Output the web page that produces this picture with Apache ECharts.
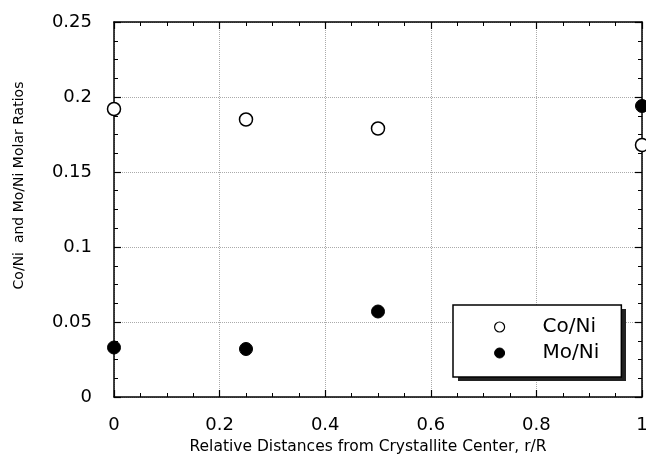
<!DOCTYPE html>
<html>
<head>
<meta charset="utf-8">
<script src="https://cdn.jsdelivr.net/npm/echarts@6/dist/echarts.min.js"></script>
<style>html,body{margin:0;padding:0;background:#fff;overflow:hidden}#c{width:646px;height:462px}</style>
</head>
<body>
<div id="c"></div>
<script>
const xValues = [0, 0.25, 0.5, 1];
const coNi = [0.192, 0.185, 0.179, 0.168];
const moNi = [0.033, 0.032, 0.057, 0.194];
const seriesNames = ['Co/Ni', 'Mo/Ni'];
const xTitle = 'Relative Distances from Crystallite Center, r/R';
const yTitle = 'Co/Ni  and Mo/Ni Molar Ratios';

const FONT = '"DejaVu Sans", "Liberation Sans", sans-serif';
const chart = echarts.init(document.getElementById('c'), null, {renderer: 'canvas', width: 646, height: 462});

function frameAxis(pos, extra) {
  return Object.assign({
    position: pos,
    axisLine: {show: true, onZero: false, lineStyle: {color: '#000', width: 1.5}},
    axisTick: {show: true, inside: true, length: 7, lineStyle: {color: '#000', width: 1.2}},
    minorTick: {show: true, splitNumber: 4, length: 4, lineStyle: {color: '#000', width: 1}},
    axisLabel: {show: false},
    splitLine: {show: false}
  }, extra);
}

const xBase = {type: 'value', min: 0, max: 1, interval: 0.2};
const yBase = {type: 'value', min: 0, max: 0.25, interval: 0.05};

// legend box geometry
const LG = {left: 453, top: 305, w: 168, h: 72};

chart.setOption({
  animation: false,
  backgroundColor: '#fff',
  textStyle: {fontFamily: FONT},
  grid: {left: 114, right: 4, top: 22, bottom: 65, containLabel: false, outerBoundsMode: 'none'},
  xAxis: [
    Object.assign({}, xBase, frameAxis('bottom', {
      name: xTitle, nameLocation: 'middle', nameGap: 34,
      nameTextStyle: {fontSize: 15.5, color: '#000', fontFamily: FONT, padding: [0, 20, 0, 0]},
      axisLabel: {show: true, fontSize: 18, color: '#000', margin: 19, fontFamily: FONT},
      splitLine: {show: true, lineStyle: {color: '#aaa', type: 'dotted', width: 1}}
    })),
    Object.assign({}, xBase, frameAxis('top', {}))
  ],
  yAxis: [
    Object.assign({}, yBase, frameAxis('left', {
      name: yTitle, nameLocation: 'middle', nameGap: 88,
      nameTextStyle: {fontSize: 14, color: '#000', fontFamily: FONT, padding: [0, 0, 0, 48]},
      axisLabel: {show: true, fontSize: 18, color: '#000', margin: 22, fontFamily: FONT},
      splitLine: {show: true, lineStyle: {color: '#aaa', type: 'dotted', width: 1}}
    })),
    Object.assign({}, yBase, frameAxis('right', {}))
  ],
  graphic: [
    {type: 'rect', left: LG.left + 5, top: LG.top + 4, z: 90, silent: true,
     shape: {width: LG.w, height: LG.h}, style: {fill: '#222'}}
  ],
  legend: {
    orient: 'vertical',
    left: LG.left, top: LG.top,
    z: 100,
    padding: [12, 22, 14, 41],
    itemWidth: 10, itemHeight: 10, itemGap: 6,
    backgroundColor: '#fff',
    borderColor: '#000', borderWidth: 1.5,
    textStyle: {fontSize: 20, color: '#000', fontFamily: FONT, lineHeight: 20, padding: [0, 0, 0, 33]},
    data: [
      {name: seriesNames[0], icon: 'circle', itemStyle: {color: '#fff', borderColor: '#000', borderWidth: 1.2}},
      {name: seriesNames[1], icon: 'circle', itemStyle: {color: '#000', borderColor: '#000', borderWidth: 1}}
    ]
  },
  series: [
    {
      name: seriesNames[0], type: 'scatter', xAxisIndex: 0, yAxisIndex: 0, clip: false,
      symbol: 'circle', symbolSize: 13,
      itemStyle: {color: '#fff', borderColor: '#000', borderWidth: 1.5, opacity: 1},
      data: xValues.map((x, i) => [x, coNi[i]]), z: 5
    },
    {
      name: seriesNames[1], type: 'scatter', xAxisIndex: 0, yAxisIndex: 0, clip: false,
      symbol: 'circle', symbolSize: 13,
      itemStyle: {color: '#000', borderColor: '#000', borderWidth: 1, opacity: 1},
      data: xValues.map((x, i) => [x, moNi[i]]), z: 5
    }
  ]
});
</script>
</body>
</html>
